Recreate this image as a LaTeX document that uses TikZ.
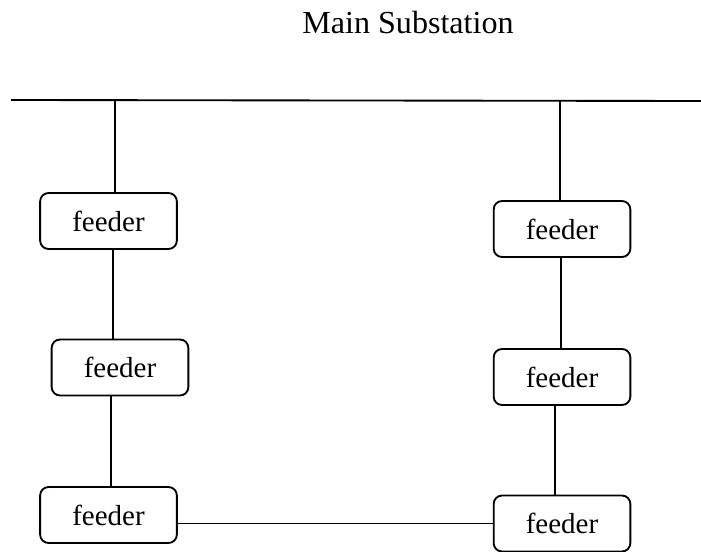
\documentclass[tikz,border=0pt]{standalone}
\usepackage{fontspec}
\setmainfont{Liberation Serif}
\tikzset{
  feeder/.style={draw,line width=0.9pt,rounded corners=4pt,minimum width=66pt,minimum height=27pt,inner sep=0pt,font=\fontsize{14}{16}\selectfont},
  wire/.style={line width=0.9pt}
}
\begin{document}
\begin{tikzpicture}[x=0.483pt,y=-0.483pt]
\useasboundingbox (0,0) rectangle (701,552);
\node[font=\fontsize{15.5}{18}\selectfont,anchor=base] (title) at (408,34) {Main Substation};

% bus bar
\coordinate (busL) at (11,100);
\coordinate (busR) at (701,101);
\draw[wire] (busL) -- (busR);
\coordinate (tapL) at (115,100);
\coordinate (tapR) at (560,101);

% left feeders
\node[feeder] (L1) at (108.5,221) {feeder};
\node[feeder] (L2) at (120,367.5) {feeder};
\node[feeder] (L3) at (108.5,515) {feeder};
% right feeders
\node[feeder] (R1) at (562,229) {feeder};
\node[feeder] (R2) at (562,377) {feeder};
\node[feeder] (R3) at (562,523.5) {feeder};

\coordinate (c12) at ([xshift=2.2pt]L1.south);
\coordinate (c23) at ([xshift=-4.3pt]L2.south);
\coordinate (d12) at ([xshift=-0.5pt]R1.south);
\coordinate (d23) at ([xshift=-3.4pt]R2.south);

\draw[wire] (tapL) -- (tapL |- L1.north);
\draw[wire] (c12) -- (c12 |- L2.north);
\draw[wire] (c23) -- (c23 |- L3.north);
\draw[wire] (tapR) -- (tapR |- R1.north);
\draw[wire] (d12) -- (d12 |- R2.north);
\draw[wire] (d23) -- (d23 |- R3.north);
\draw[wire] (R3.west -| L3.east) -- (R3.west);

\end{tikzpicture}
\end{document}
